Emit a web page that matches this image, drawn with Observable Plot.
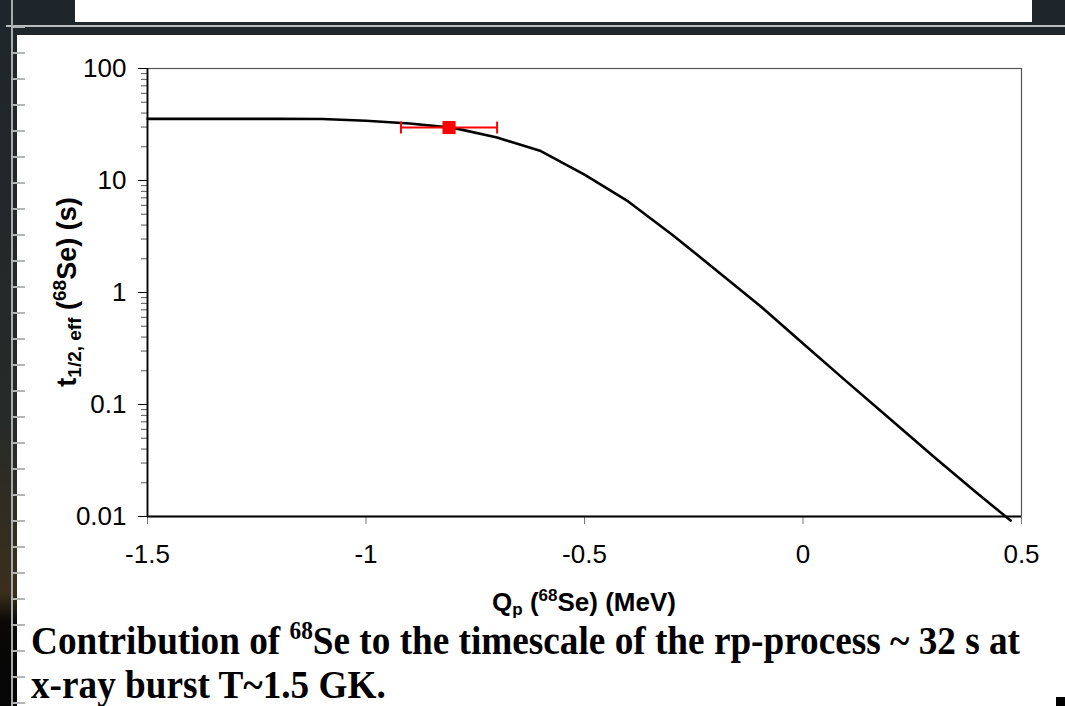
<!DOCTYPE html>
<html>
<head>
<meta charset="utf-8">
<script src="https://cdn.jsdelivr.net/npm/d3@7"></script>
<script src="https://cdn.jsdelivr.net/npm/@observablehq/plot@0.6"></script>
<style>
  html, body { margin: 0; padding: 0; }
  #page { position: relative; width: 1065px; height: 706px; overflow: hidden;
          background: linear-gradient(180deg, #1f262b 0%, #262a28 60%, #3b2f1c 84%, #0a0908 88%, #050505 100%); }
  #topbox { position: absolute; left: 75px; top: 0; width: 957px; height: 22px; background: #fff; }
  #topline { position: absolute; left: 6px; top: 25px; width: 1059px; height: 2px; background: #b9bcbc; }
  #main { position: absolute; left: 17px; top: 35px; width: 1048px; height: 671px; background: #fff; }
  #ruler { position: absolute; left: 11px; top: 0; width: 2px; height: 706px; background: #a9acad; }
  #rticks { position: absolute; left: 11px; top: 2px; width: 14px; height: 704px;
            background: repeating-linear-gradient(180deg, transparent 0px, transparent 24px, #b4b6b6 24px, #b4b6b6 26px); }
  #chart { position: absolute; left: 0; top: 0; }
  #caption { position: absolute; left: 31px; top: 621px; font-family: "Liberation Serif", "Times New Roman", serif;
             font-weight: bold; font-size: 40px; line-height: 39px; color: #000; transform-origin: 0 0; white-space: nowrap; }
  #caption sup { font-size: 25px; vertical-align: 0; position: relative; top: -15px; }
  #sq { position: absolute; left: 1056px; top: 697px; width: 9px; height: 9px; background: #000; }
</style>
</head>
<body>
<div id="page">
  <div id="topbox"></div>
  <div id="topline"></div>
  <div id="main"></div>
  <div id="ruler"></div>
  <div id="rticks"></div>
  <div id="chart"></div>
  <div id="caption">Contribution of <sup>68</sup>Se to the timescale of the rp-process ~ 32 s at<br>x-ray burst T~1.5 GK.</div>
  <div id="sq"></div>
</div>
<script>
// Curve: effective half-life of 68Se vs proton separation energy Qp
const qp      = [-1.5, -1.4, -1.3, -1.2, -1.1, -1.0, -0.9, -0.8, -0.7, -0.6, -0.5, -0.4, -0.3, -0.2, -0.1, 0.0, 0.1, 0.2, 0.3, 0.4, 0.475];
const tHalf   = [35.5, 35.5, 35.5, 35.5, 35.4, 34.2, 32.3, 29.5, 24.2, 18.3, 11.3, 6.5, 3.3, 1.6, 0.77, 0.35, 0.160, 0.074, 0.034, 0.016, 0.0092];
// Measured point with horizontal error bar
const pointQ   = [-0.81];
const pointT   = [29.7];
const pointQlo = [-0.92];
const pointQhi = [-0.70];
// Axis ticks
const xTicks = [-1.5, -1, -0.5, 0, 0.5];
const yTicks = [0.01, 0.1, 1, 10, 100];
const yMinor = [];
for (const d of [0.01, 0.1, 1, 10]) for (let k = 2; k <= 9; k++) yMinor.push(+(d * k).toPrecision(3));

const curve = qp.map((q, i) => ({q, t: tHalf[i]}));
const pts = pointQ.map((q, i) => ({q, t: pointT[i], lo: pointQlo[i], hi: pointQhi[i]}));

const vbar = { draw(ctx, size) { const r = Math.sqrt(size / Math.PI); ctx.moveTo(0, -r); ctx.lineTo(0, r); } };

const svg = Plot.plot({
  width: 1065, height: 600,
  marginLeft: 147, marginRight: 44, marginTop: 68, marginBottom: 84,
  style: { background: "transparent", fontFamily: "'Liberation Sans', Arial, sans-serif", fontSize: "26px", color: "#000" },
  x: { domain: [-1.5, 0.5], axis: null },
  y: { type: "log", domain: [0.01, 100], axis: null },
  marks: [
    Plot.frame({ stroke: "#555", strokeWidth: 1.2 }),
    Plot.axisY({ ticks: yMinor, tickSize: 6, tickFormat: () => "", stroke: "#555", label: null }),
    Plot.axisY({ ticks: yTicks, tickSize: 9, tickPadding: 12, tickFormat: d => String(d), fontSize: 26, label: null }),
    Plot.axisX({ ticks: xTicks, tickSize: 8, tickPadding: 20, tickFormat: d => String(d), fontSize: 26, label: null, stroke: "#777" }),
    Plot.ruleX([-1.5], { stroke: "#000", strokeWidth: 1.8 }),
    Plot.ruleY([0.01], { stroke: "#000", strokeWidth: 1.8 }),
    Plot.line(curve, { x: "q", y: "t", stroke: "#000", strokeWidth: 2.6 }),
    Plot.link(pts, { x1: "lo", x2: "hi", y1: "t", y2: "t", stroke: "#ff0000", strokeWidth: 2 }),
    Plot.dot(pts, { x: "lo", y: "t", symbol: vbar, r: 6, stroke: "#ff0000", strokeWidth: 2 }),
    Plot.dot(pts, { x: "hi", y: "t", symbol: vbar, r: 6, stroke: "#ff0000", strokeWidth: 2 }),
    Plot.dot(pts, { x: "q", y: "t", symbol: "square", r: 7.4, fill: "#ff0000", stroke: "none" })
  ]
});

const s = d3.select(svg);
// Y axis title: t_{1/2, eff} (^{68}Se) (s)
const yl = s.append("text")
  .attr("transform", "translate(76,292) rotate(-90)")
  .attr("text-anchor", "middle")
  .attr("font-family", "'Liberation Sans', Arial, sans-serif")
  .attr("font-weight", "bold").attr("font-size", 27).attr("fill", "#000");
yl.append("tspan").text("t");
yl.append("tspan").attr("font-size", 19).attr("dy", 5).text("1/2, eff");
yl.append("tspan").attr("dy", -5).text(" (");
yl.append("tspan").attr("font-size", 19).attr("dy", -10).text("68");
yl.append("tspan").attr("dy", 10).text("Se) (s)");

// X axis title: Q_p (^{68}Se) (MeV)
const xl = s.append("text")
  .attr("x", 584).attr("y", 611)
  .attr("text-anchor", "middle")
  .attr("font-family", "'Liberation Sans', Arial, sans-serif")
  .attr("font-weight", "bold").attr("font-size", 26).attr("fill", "#000");
xl.append("tspan").text("Q");
xl.append("tspan").attr("font-size", 17).attr("dy", 4).text("p");
xl.append("tspan").attr("dy", -4).text(" (");
xl.append("tspan").attr("font-size", 17).attr("dy", -10).text("68");
xl.append("tspan").attr("dy", 10).text("Se) (MeV)");

s.attr("height", 620).attr("viewBox", "0 0 1065 620").style("overflow", "visible");
document.getElementById("chart").appendChild(svg);

// fit caption first line to the reference width (~989px)
const cap = document.getElementById("caption");
const w = cap.getBoundingClientRect().width;
cap.style.transform = `scaleX(${989 / w})`;
</script>
</body>
</html>
